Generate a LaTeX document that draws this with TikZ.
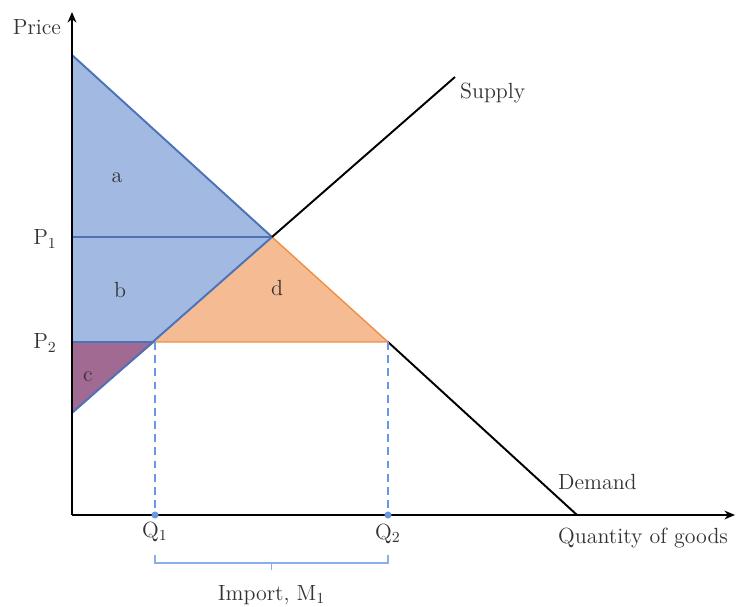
\documentclass[tikz,border=0pt]{standalone}
\usepackage{xcolor}
\usepackage{tikz}
\usetikzlibrary{arrows.meta, positioning, calc}
\definecolor{surplusblue}{HTML}{A2B9E1}
\definecolor{edgeblue}{HTML}{4C72B8}
\definecolor{gainorange}{HTML}{F5BC94}
\definecolor{edgeorange}{HTML}{EE8F45}
\definecolor{lossviolet}{HTML}{A06A92}
\definecolor{dashblue}{HTML}{6A96E6}
\definecolor{bracketblue}{HTML}{8AAEEA}
\begin{document}
\begin{tikzpicture}[
  x=0.02cm, y=0.02cm,
  font=\fontsize{12.5}{15}\selectfont,
  axis/.style={draw, line width=1.3pt, -{Stealth[length=6pt, width=5pt]}},
  curve/.style={draw, line width=1.1pt},
  lbl/.style={inner sep=1pt, text=black!80},
  guide/.style={draw=dashblue, line width=0.9pt, dash pattern=on 4.5pt off 3pt},
  qdot/.style={circle, fill=dashblue, inner sep=0pt, minimum size=4pt}
]
\useasboundingbox (-72,-92) rectangle (664,515);
% points of the diagram
\coordinate (O) at (0,0);
\coordinate (ytop) at (0,503);
\coordinate (xend) at (663,0);
\coordinate (dtop) at (0,460);
\coordinate (dend) at (505,0);
\coordinate (sbot) at (0,102);
\coordinate (send) at (383,438);
\coordinate (E) at (200,278);
\coordinate (p1) at (0,278);
\coordinate (p2) at (0,173);
\coordinate (A) at (83,173);
\coordinate (B) at (316,173);
% areas
\fill[surplusblue] (dtop) -- (E) -- (A) -- (p2) -- cycle;
\fill[gainorange] (E) -- (A) -- (B) -- cycle;
\fill[lossviolet] (p2) -- (A) -- (sbot) -- cycle;
\draw[edgeorange, line width=0.8pt] (A) -- (B) -- (E);
\draw[edgeblue, line width=0.8pt] (p1) -- (E);
\draw[edgeblue, line width=0.8pt] (p2) -- (A);
\draw[edgeblue, line width=1.1pt] (dtop) -- (E);
\draw[edgeblue, line width=1.1pt] (sbot) -- (E);
% curves
\draw[curve] (E) -- (send);
\draw[curve] (B) -- (dend);
% guides
\draw[guide] (A) -- (A |- O);
\draw[guide] (B) -- (B |- O);
% axes
\draw[axis] (O) -- (ytop);
\draw[axis] (O) -- (xend);
\draw[line width=1.3pt] (O) -- (sbot);
\node[qdot] (q1dot) at (A |- O) {};
\node[qdot] (q2dot) at (B |- O) {};
% labels
\node[lbl] (price) at (-35,488) {Price};
\node[lbl] (p1lbl) at (-27,276) {P\textsubscript{1}};
\node[lbl] (p2lbl) at (-27,172) {P\textsubscript{2}};
\node[lbl] (alb) at (45,337) {a};
\node[lbl] (blb) at (48,225) {b};
\node[lbl] (clb) at (16,138) {c};
\node[lbl] (dlb) at (205,227) {d};
\node[lbl, anchor=west] (supply) at (386,422) {Supply};
\node[lbl, anchor=west] (demand) at (484,33) {Demand};
\node[lbl] (q1lbl) at (83,-17) {Q\textsubscript{1}};
\node[lbl] (q2lbl) at (316,-19) {Q\textsubscript{2}};
\node[lbl, anchor=west] (qlbl) at (484,-23) {Quantity of goods};
% import bracket
\coordinate (bl) at (83,-40);
\coordinate (br) at (316,-40);
\coordinate (bm) at ($(bl)!0.5!(br)$);
\draw[bracketblue, line width=0.9pt] (bl) -- ++(0,-8) -| (br);
\draw[bracketblue, line width=0.9pt] ($(bm)+(0,-8)$) -- ++(0,-7);
\node[lbl] (imp) at ($(bm)+(0,-40)$) {Import, M\textsubscript{1}};
\end{tikzpicture}
\end{document}
